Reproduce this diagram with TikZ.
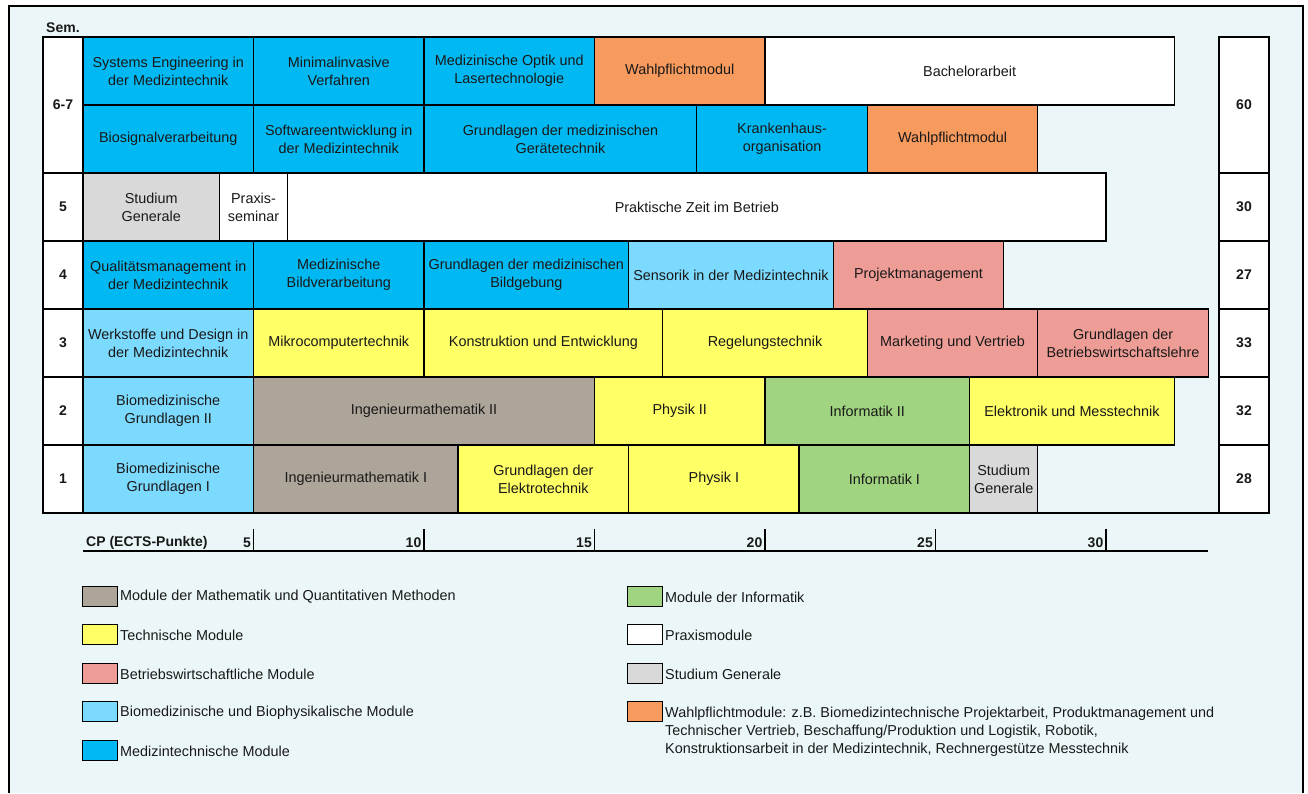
\documentclass[tikz,border=0pt]{standalone}
\usepackage{fontspec}
\setmainfont{Liberation Sans}
\definecolor{bg}{RGB}{235,246,249}
\definecolor{medtech}{RGB}{0,185,242}
\definecolor{biomed}{RGB}{125,218,255}
\definecolor{tech}{RGB}{255,255,102}
\definecolor{mathc}{RGB}{173,165,153}
\definecolor{bwl}{RGB}{238,157,150}
\definecolor{info}{RGB}{160,212,128}
\definecolor{studgen}{RGB}{217,217,217}
\definecolor{wahl}{RGB}{247,154,94}
\definecolor{txt}{RGB}{25,25,25}
\newcommand\modul[6]{\node[modcell,fill=#5,minimum width={#3*34.1pt}] (#1) at ({83+34.1*(#2+#3/2)},{#4+34}) {#6};}
\tikzset{
  modcell/.style={draw=black,line width=1.3pt,rectangle,inner sep=0pt,outer sep=0pt,minimum height=68pt,align=center,text=txt,font=\fontsize{14.4}{18.3}\selectfont},
  semcell/.style={draw=black,line width=1.3pt,fill=white,rectangle,inner sep=0pt,outer sep=0pt,minimum width=40pt,minimum height=68pt,font=\fontsize{14}{16}\selectfont\bfseries,text=txt},
  totcell/.style={draw=black,line width=1.3pt,fill=white,rectangle,inner sep=0pt,outer sep=0pt,minimum width=50pt,minimum height=68pt,font=\fontsize{14}{16}\selectfont\bfseries,text=txt},
  boldlab/.style={inner sep=0pt,font=\fontsize{14}{16}\selectfont\bfseries,text=txt},
  gridline/.style={draw=black,line width=1.3pt},
  axisline/.style={draw=black,line width=1.1pt},
  legbox/.style={draw=black,line width=1pt,rectangle,inner sep=0pt,outer sep=0pt,minimum width=35pt,minimum height=20pt},
  legtext/.style={inner sep=0pt,anchor=west,align=left,text=txt,font=\fontsize{14.4}{18.2}\selectfont},
}
\begin{document}
\begin{tikzpicture}[x=1pt,y=-1pt]
\useasboundingbox (0,0) rectangle (1308,793);
\fill[white] (0,0) rectangle (1308,793);
\fill[bg] (9,6) rectangle (1303,793);
\coordinate (fbl) at (9,793);
\coordinate (ftl) at (9,6);
\coordinate (ftr) at (1303,6);
\coordinate (fbr) at (1303,793);
\draw[black,line width=1.2pt] (fbl) -- (ftl) -- (ftr) -- (fbr);

\node[boldlab,anchor=west] (semlab) at (46,28) {Sem.};

% semester column
\node[semcell,minimum height=136pt] (s67) at (63,105) {6-7};
\node[semcell] (s5) at (63,207) {5};
\node[semcell] (s4) at (63,275) {4};
\node[semcell] (s3) at (63,343) {3};
\node[semcell] (s2) at (63,411) {2};
\node[semcell] (s1) at (63,479) {1};

% totals column
\node[totcell,minimum height=136pt] (t67) at (1244,105) {60};
\node[totcell] (t5) at (1244,207) {30};
\node[totcell] (t4) at (1244,275) {27};
\node[totcell] (t3) at (1244,343) {33};
\node[totcell] (t2) at (1244,411) {32};
\node[totcell] (t1) at (1244,479) {28};

% semester 6-7 (upper)
\modul{se}{0}{5}{37}{medtech}{Systems Engineering in\\der Medizintechnik}
\modul{mi}{5}{5}{37}{medtech}{Minimalinvasive\\Verfahren}
\modul{mo}{10}{5}{37}{medtech}{Medizinische Optik und\\Lasertechnologie}
\modul{wa}{15}{5}{37}{wahl}{Wahlpflichtmodul}
\modul{ba}{20}{12}{37}{white}{Bachelorarbeit}
% semester 6-7 (lower)
\modul{bs}{0}{5}{105}{medtech}{Biosignalverarbeitung}
\modul{sw}{5}{5}{105}{medtech}{Softwareentwicklung in\\der Medizintechnik}
\modul{gg}{10}{8}{105}{medtech}{Grundlagen der medizinischen\\Gerätetechnik}
\modul{kh}{18}{5}{105}{medtech}{Krankenhaus-\\organisation}
\modul{wb}{23}{5}{105}{wahl}{Wahlpflichtmodul}
% semester 5
\modul{sg}{0}{4}{173}{studgen}{Studium\\Generale}
\modul{ps}{4}{2}{173}{white}{Praxis-\\seminar}
\modul{pz}{6}{24}{173}{white}{Praktische Zeit im Betrieb}
% semester 4
\modul{qm}{0}{5}{241}{medtech}{Qualitätsmanagement in\\der Medizintechnik}
\modul{mb}{5}{5}{241}{medtech}{Medizinische\\Bildverarbeitung}
\modul{gb}{10}{6}{241}{medtech}{Grundlagen der medizinischen\\Bildgebung}
\modul{so}{16}{6}{241}{biomed}{Sensorik in der Medizintechnik}
\modul{pm}{22}{5}{241}{bwl}{Projektmanagement}
% semester 3
\modul{wd}{0}{5}{309}{biomed}{Werkstoffe und Design in\\der Medizintechnik}
\modul{mc}{5}{5}{309}{tech}{Mikrocomputertechnik}
\modul{ke}{10}{7}{309}{tech}{Konstruktion und Entwicklung}
\modul{rt}{17}{6}{309}{tech}{Regelungstechnik}
\modul{mv}{23}{5}{309}{bwl}{Marketing und Vertrieb}
\modul{bw}{28}{5}{309}{bwl}{Grundlagen der\\Betriebswirtschaftslehre}
% semester 2
\modul{bb}{0}{5}{377}{biomed}{Biomedizinische\\Grundlagen II}
\modul{mm}{5}{10}{377}{mathc}{Ingenieurmathematik II}
\modul{pp}{15}{5}{377}{tech}{Physik II}
\modul{ii}{20}{6}{377}{info}{Informatik II}
\modul{em}{26}{6}{377}{tech}{Elektronik und Messtechnik}
% semester 1
\modul{ba1}{0}{5}{445}{biomed}{Biomedizinische\\Grundlagen I}
\modul{m1}{5}{6}{445}{mathc}{Ingenieurmathematik I}
\modul{ge}{11}{5}{445}{tech}{Grundlagen der\\Elektrotechnik}
\modul{p1}{16}{5}{445}{tech}{Physik I}
\modul{i1}{21}{5}{445}{info}{Informatik I}
\modul{sg1}{26}{2}{445}{studgen}{Studium\\Generale}

% bottom line of grid
\coordinate (gbl) at (43,513);
\coordinate (gbr) at (1269,513);
\draw[gridline] (gbl) -- (gbr);

% CP axis
\coordinate (ax0) at (83,551);
\coordinate (ax1) at (1208,551);
\draw[axisline] (ax0) -- (ax1);
\node[boldlab,anchor=west] (cplab) at (86,543) {CP (ECTS-Punkte)};
\foreach \v/\n in {5/a,10/b,15/c,20/d,25/e,30/f}{
  \coordinate (tk\n t) at ({83+34.1*\v},529);
  \coordinate (tk\n b) at ({83+34.1*\v},552);
  \draw[axisline] (tk\n t) -- (tk\n b);
  \node[boldlab,anchor=east] (tl\n) at ({83+34.1*\v-2.5},543) {\v};
}

% legend left
\node[legbox,fill=mathc] (lg1) at (100.3,596) {};
\node[legtext] (lt1) at (120,597) {Module der Mathematik und Quantitativen Methoden};
\node[legbox,fill=tech] (lg2) at (100.3,634.3) {};
\node[legtext] (lt2) at (120,635) {Technische Module};
\node[legbox,fill=bwl] (lg3) at (100.3,673.3) {};
\node[legtext] (lt3) at (120,674) {Betriebswirtschaftliche Module};
\node[legbox,fill=biomed] (lg4) at (100.3,711.7) {};
\node[legtext] (lt4) at (120,712.3) {Biomedizinische und Biophysikalische Module};
\node[legbox,fill=medtech] (lg5) at (100.3,750) {};
\node[legtext] (lt5) at (120,751) {Medizintechnische Module};
% legend right
\node[legbox,fill=info] (lg6) at (645,596) {};
\node[legtext] (lt6) at (665,597) {Module der Informatik};
\node[legbox,fill=white] (lg7) at (645,634.3) {};
\node[legtext] (lt7) at (665,635) {Praxismodule};
\node[legbox,fill=studgen] (lg8) at (645,673.3) {};
\node[legtext] (lt8) at (665,674) {Studium Generale};
\node[legbox,fill=wahl] (lg9) at (645,711.7) {};
\node[legtext] (lt9) at (665,731.5) {Wahlpflichtmodule: z.B. Biomedizintechnische Projektarbeit, Produktmanagement und\\Technischer Vertrieb, Beschaffung/Produktion und Logistik, Robotik,\\Konstruktionsarbeit in der Medizintechnik, Rechnergestütze Messtechnik};
\end{tikzpicture}
\end{document}
